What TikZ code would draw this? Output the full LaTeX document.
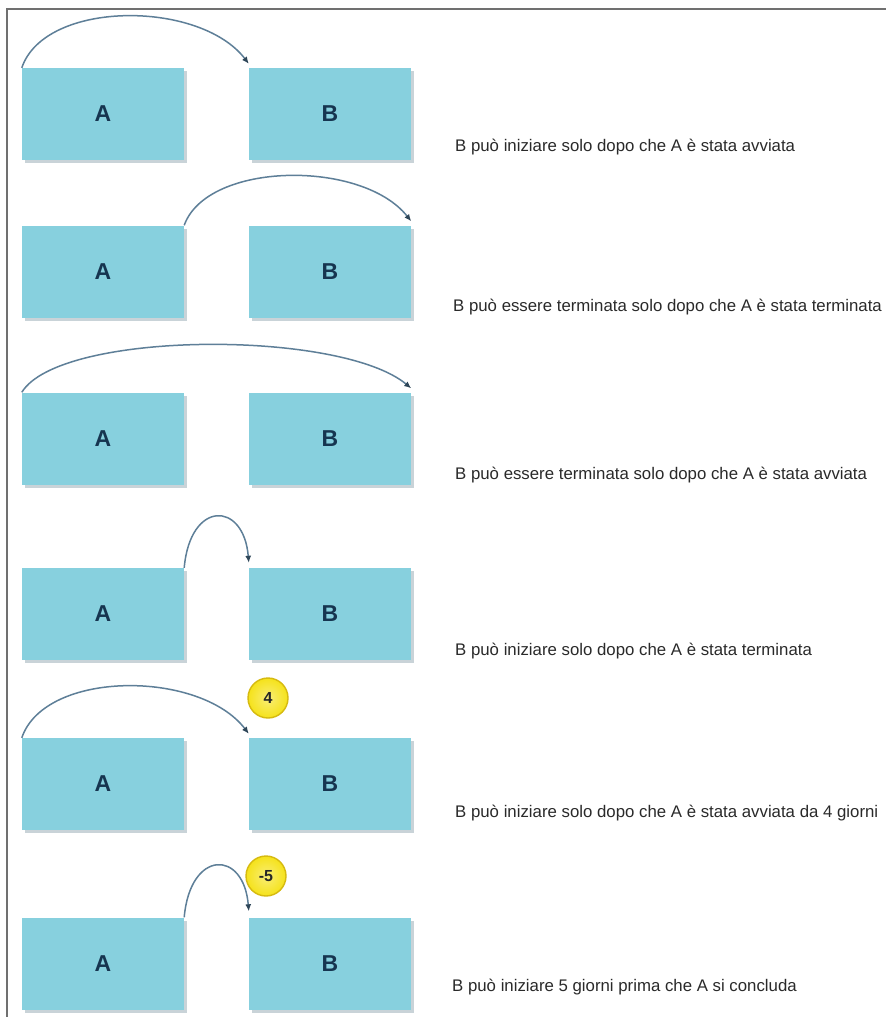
\documentclass[tikz,border=0pt]{standalone}
\usepackage{fontspec}
\setmainfont{Liberation Sans}
\usetikzlibrary{arrows.meta,shadows}
\definecolor{boxfill}{HTML}{87D0DE}
\definecolor{boxshadow}{HTML}{C9D3D8}
\definecolor{arcc}{HTML}{5E7F98}
\definecolor{tipc}{HTML}{2E4658}
\definecolor{letterc}{HTML}{163550}
\definecolor{txtc}{HTML}{2A2A2A}
\definecolor{framec}{HTML}{707070}
\definecolor{ballc}{HTML}{F5E21A}
\definecolor{ballrim}{HTML}{D6BA10}
\tikzset{
  task/.style={rectangle, fill=boxfill, minimum width=162pt, minimum height=92pt,
    inner sep=0pt, font=\fontsize{23}{23}\selectfont\bfseries, text=letterc,
    drop shadow={shadow xshift=3pt, shadow yshift=-3pt, fill=boxshadow, opacity=1}},
  link/.style={draw=arcc, line width=1.5pt, -{Latex[length=7pt,width=6pt,fill=tipc,color=tipc]}},
  desc/.style={anchor=west, text=txtc, font=\fontsize{16.8}{18}\selectfont, inner sep=0pt},
  lag/.style={circle, minimum size=40pt, inner sep=0pt, draw=ballrim, line width=1.4pt,
    inner color=ballc!60!white, outer color=ballc,
    font=\fontsize{16}{16}\selectfont\bfseries, text=black!85}
}
\begin{document}
\begin{tikzpicture}[x=1pt, y=-1pt]
\useasboundingbox (0,0) rectangle (886,1017);
\fill[white] (0,0) rectangle (886,1017);
\clip (0,0) rectangle (886,1017);
\draw[framec, line width=1.3pt] (7,1017) -- (7,9) -- (886,9);

% row 1
\node[task] (A1) at (103,114) {A};
\node[task] (B1) at (330,114) {B};
\draw[link] (A1.north west) .. controls +(23,-68) and +(-49,-64) .. ([yshift=4pt]B1.north west);
\node[desc] (T1) at (455,147) {B può iniziare solo dopo che A è stata avviata};

% row 2
\node[task] (A2) at (103,271.5) {A};
\node[task] (B2) at (330,271.5) {B};
\draw[link] (A2.north east) .. controls +(23,-64) and +(-49,-62) .. ([yshift=4pt]B2.north east);
\node[desc] (T2) at (453,307) {B può essere terminata solo dopo che A è stata terminata};

% row 3
\node[task] (A3) at (103,438.5) {A};
\node[task] (B3) at (330,438.5) {B};
\draw[link] (A3.north west) .. controls +(38,-62) and +(-71,-59) .. ([yshift=4pt]B3.north east);
\node[desc] (T3) at (455,475) {B può essere terminata solo dopo che A è stata avviata};

% row 4
\node[task] (A4) at (103,614) {A};
\node[task] (B4) at (330,614) {B};
\draw[link] (A4.north east) .. controls +(6,-68) and +(-5,-62) .. ([yshift=5pt]B4.north west);
\node[desc] (T4) at (455,651) {B può iniziare solo dopo che A è stata terminata};

% row 5
\node[task] (A5) at (103,784) {A};
\node[task] (B5) at (330,784) {B};
\draw[link] (A5.north west) .. controls +(23,-68) and +(-49,-64) .. ([yshift=4pt]B5.north west);
\node[lag] (L5) at (268,698) {4};
\node[desc] (T5) at (455,813) {B può iniziare solo dopo che A è stata avviata da 4 giorni};

% row 6
\node[task] (A6) at (103,963.5) {A};
\node[task] (B6) at (330,963.5) {B};
\draw[link] (A6.north east) .. controls +(6,-68) and +(-5,-62) .. ([yshift=6pt]B6.north west);
\node[lag] (L6) at (266,876) {-5};
\node[desc] (T6) at (452,987) {B può iniziare 5 giorni prima che A si concluda};
\end{tikzpicture}
\end{document}
